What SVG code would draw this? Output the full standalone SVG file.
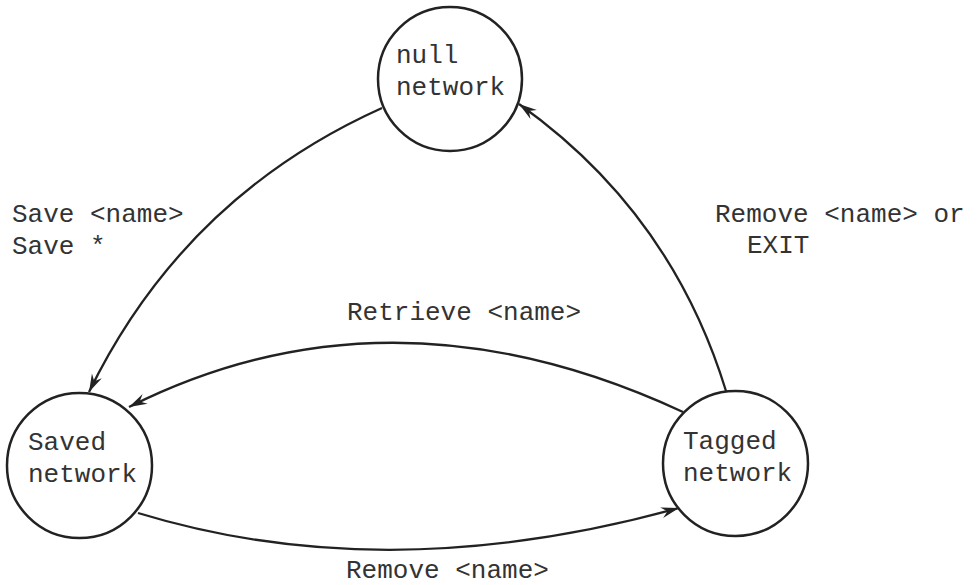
<svg xmlns="http://www.w3.org/2000/svg" width="977" height="585" viewBox="0 0 977 585">
<defs>
<style>
.node{fill:#fff;stroke:#222;stroke-width:2.5}
.edge{fill:none;stroke:#222;stroke-width:2.3;marker-end:url(#arr)}
text{font-family:"Liberation Mono","Courier New",monospace;font-size:26px;fill:#333}
</style>
<marker id="arr" markerUnits="userSpaceOnUse" markerWidth="24" markerHeight="14" viewBox="-20 -7 22 14" refX="0" refY="0" orient="auto">
<path d="M0,0 L-18,-5.5 L-12,0 L-18,5.5 Z" fill="#222"/>
</marker>
</defs>
<rect width="977" height="585" fill="#fff"/>
<g id="edges">
<path id="e-save" class="edge" d="M382,108 Q184,197 89,392"/>
<path id="e-retrieve" class="edge" d="M683,412 Q390,276 129,407"/>
<path id="e-remove" class="edge" d="M138,513 Q387,589 679,508"/>
<path id="e-exit" class="edge" d="M726,391 Q671,212 519,104"/>
</g>
<g id="null-network">
<circle class="node" cx="450" cy="79" r="72"/>
<text x="396" y="63">null</text>
<text x="396" y="95">network</text>
</g>
<g id="saved-network">
<circle class="node" cx="79.5" cy="465.5" r="72.5"/>
<text x="28" y="450">Saved</text>
<text x="28" y="482">network</text>
</g>
<g id="tagged-network">
<circle class="node" cx="735.5" cy="463.5" r="72.5"/>
<text x="683" y="449">Tagged</text>
<text x="683" y="481">network</text>
</g>
<g id="labels">
<text x="12" y="222">Save &lt;name&gt;</text>
<text x="12" y="254">Save *</text>
<text x="347" y="320">Retrieve &lt;name&gt;</text>
<text x="346" y="578">Remove &lt;name&gt;</text>
<text x="715" y="222">Remove &lt;name&gt; or</text>
<text x="747" y="253">EXIT</text>
</g>
</svg>
